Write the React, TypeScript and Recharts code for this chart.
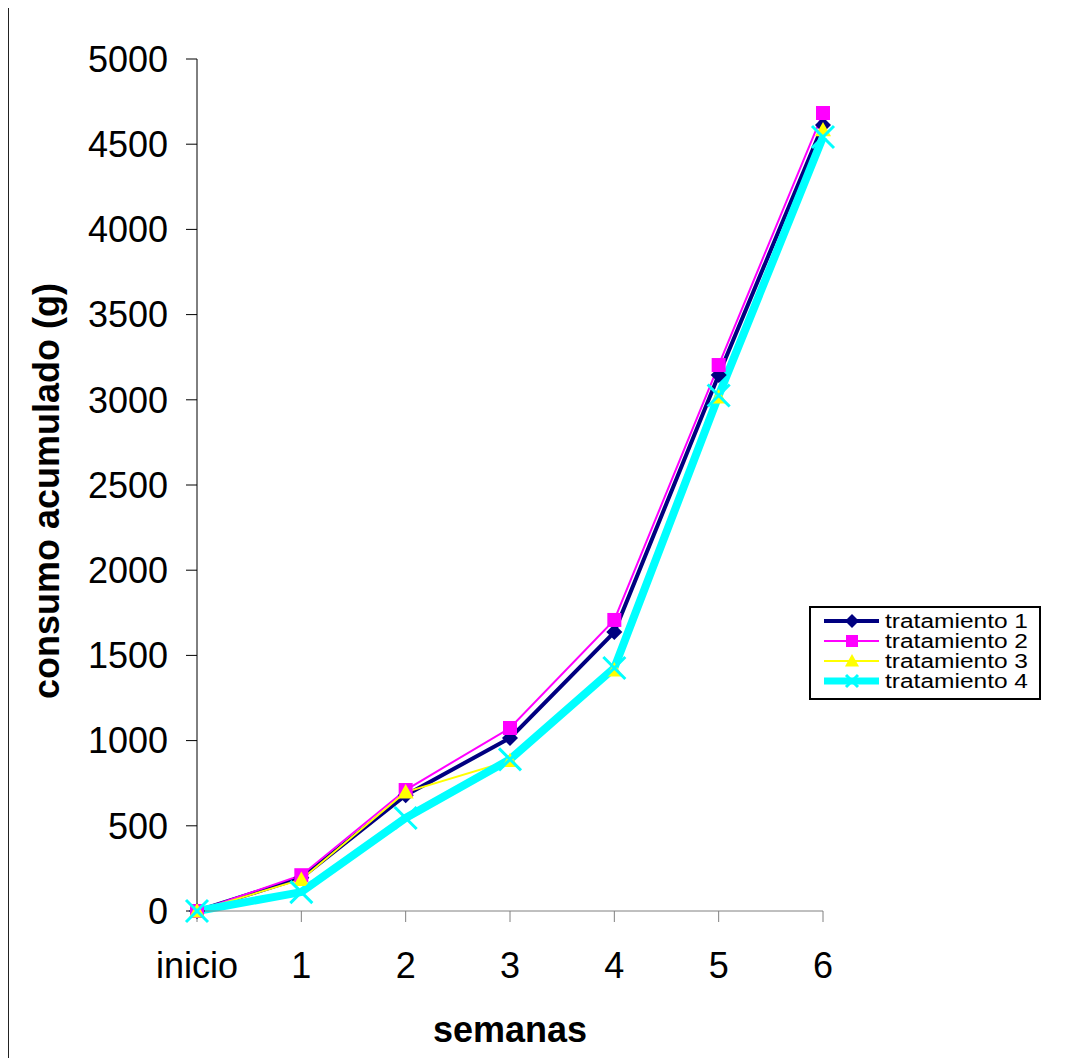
import { LineChart, Line, XAxis, YAxis, Legend } from "recharts";

const semanas = ["inicio", "1", "2", "3", "4", "5", "6"];
const tratamiento1 = [0, 195, 680, 1015, 1637, 3146, 4613];
const tratamiento2 = [0, 210, 710, 1074, 1708, 3204, 4683];
const tratamiento3 = [0, 185, 698, 882, 1414, 3016, 4584];
const tratamiento4 = [0, 111, 546, 890, 1426, 3025, 4542];
const yTicks = [0, 500, 1000, 1500, 2000, 2500, 3000, 3500, 4000, 4500, 5000];

const data = semanas.map((s, i) => ({
  semana: s,
  t1: tratamiento1[i],
  t2: tratamiento2[i],
  t3: tratamiento3[i],
  t4: tratamiento4[i],
}));

const FONT = '"Liberation Sans", Arial, sans-serif';

const Diamond = ({ cx, cy, s = 8 }: any) => (
  <path d={`M${cx},${cy - s} L${cx + s},${cy} L${cx},${cy + s} L${cx - s},${cy} Z`} fill="#000080" />
);
const Square = ({ cx, cy, s = 7 }: any) => (
  <rect x={cx - s} y={cy - s} width={s * 2} height={s * 2} fill="#FF00FF" />
);
const Triangle = ({ cx, cy, s = 8 }: any) => (
  <path d={`M${cx},${cy - s} L${cx + s},${cy + s * 0.8} L${cx - s},${cy + s * 0.8} Z`} fill="#FFFF00" />
);
const Cross = ({ cx, cy, s = 11 }: any) => (
  <path d={`M${cx - s},${cy - s} L${cx + s},${cy + s} M${cx - s},${cy + s} L${cx + s},${cy - s}`} stroke="#00FFFF" strokeWidth={3} fill="none" />
);

const series = [
  { key: "t1", name: "tratamiento 1", color: "#000080", width: 4, Mark: Diamond, ls: 7 },
  { key: "t2", name: "tratamiento 2", color: "#FF00FF", width: 2, Mark: Square, ls: 6 },
  { key: "t3", name: "tratamiento 3", color: "#FFFF00", width: 2, Mark: Triangle, ls: 7 },
  { key: "t4", name: "tratamiento 4", color: "#00FFFF", width: 7, Mark: Cross, ls: 6 },
];

function LegendBox() {
  return (
    <svg width={232} height={94} style={{ display: "block" }}>
      <rect x={1} y={1} width={230} height={92} fill="#fff" stroke="#000" strokeWidth={2} />
      {series.map((s, i) => {
        const y = 15 + i * 20;
        const M = s.Mark;
        return (
          <g key={s.key}>
            <line x1={15} x2={70} y1={y} y2={y} stroke={s.color} strokeWidth={s.width} />
            <M cx={43} cy={y} s={s.ls} />
            <text x={76} y={y + 7} fontSize={20} fontFamily={FONT} fill="#000" textLength={143} lengthAdjust="spacingAndGlyphs">
              {s.name}
            </text>
          </g>
        );
      })}
    </svg>
  );
}

export default function App() {
  return (
    <div
      style={{
        position: "relative",
        top: -2,
        width: 1082,
        height: 1054,
        overflow: "hidden",
      }}
    >
      <svg width={1082} height={1054} style={{ position: "absolute", left: 0, top: 0, zIndex: 10, pointerEvents: "none" }}>
        <line x1={0} x2={1082} y1={1} y2={1} stroke="#333" strokeWidth={2} />
        <line x1={0.5} x2={0.5} y1={0} y2={1054} stroke="#222" strokeWidth={1} />
      </svg>
      <div style={{ position: "absolute", left: 1, top: 2 }}>
        <LineChart width={1081} height={1050} data={data} margin={{ top: 51, right: 267, bottom: 87, left: 0 }} style={{ fontFamily: FONT }}>
          <XAxis
            dataKey="semana"
            interval={0}
            padding={{ left: 0, right: 0 }}
            height={60}
            tickSize={11}
            tickMargin={30}
            stroke="#808080"
            tick={{ fill: "#000", fontSize: 36, fontFamily: FONT }}
            label={{
              content: ({ viewBox }: any) => (
                <text x={viewBox.x + viewBox.width / 2} y={viewBox.y + 118} textAnchor="middle" dominantBaseline="central" fontSize={36} fontWeight="bold" fontFamily={FONT} fill="#000">
                  semanas
                </text>
              ),
            }}
          />
          <YAxis
            domain={[0, 5000]}
            ticks={yTicks}
            interval={0}
            width={188}
            tickSize={11}
            tickMargin={18}
            stroke="#000"
            tick={{ fill: "#000", fontSize: 36, fontFamily: FONT }}
            label={{
              content: ({ viewBox }: any) => {
                const cx = 37;
                const cy = viewBox.y + viewBox.height / 2 + 6;
                return (
                  <text x={cx} y={cy} transform={`rotate(-90 ${cx} ${cy})`} textAnchor="middle" dominantBaseline="central" fontSize={36} fontWeight="bold" fontFamily={FONT} fill="#000">
                    consumo acumulado (g)
                  </text>
                );
              },
            }}
          />
          <Legend
            layout="horizontal"
            verticalAlign="middle"
            align="center"
            wrapperStyle={{ left: 800, top: 598, width: 232, height: 94 }}
            content={() => <LegendBox />}
          />
          {series.map((s) => {
            const M = s.Mark;
            return (
              <Line
                key={s.key}
                type="linear"
                dataKey={s.key}
                name={s.name}
                stroke={s.color}
                strokeWidth={s.key === "t4" ? 8 : s.width}
                isAnimationActive={false}
                dot={(p: any) => <M key={`${s.key}-${p.index}`} cx={p.cx} cy={p.cy} />}
                activeDot={false}
              />
            );
          })}
        </LineChart>
      </div>
    </div>
  );
}
